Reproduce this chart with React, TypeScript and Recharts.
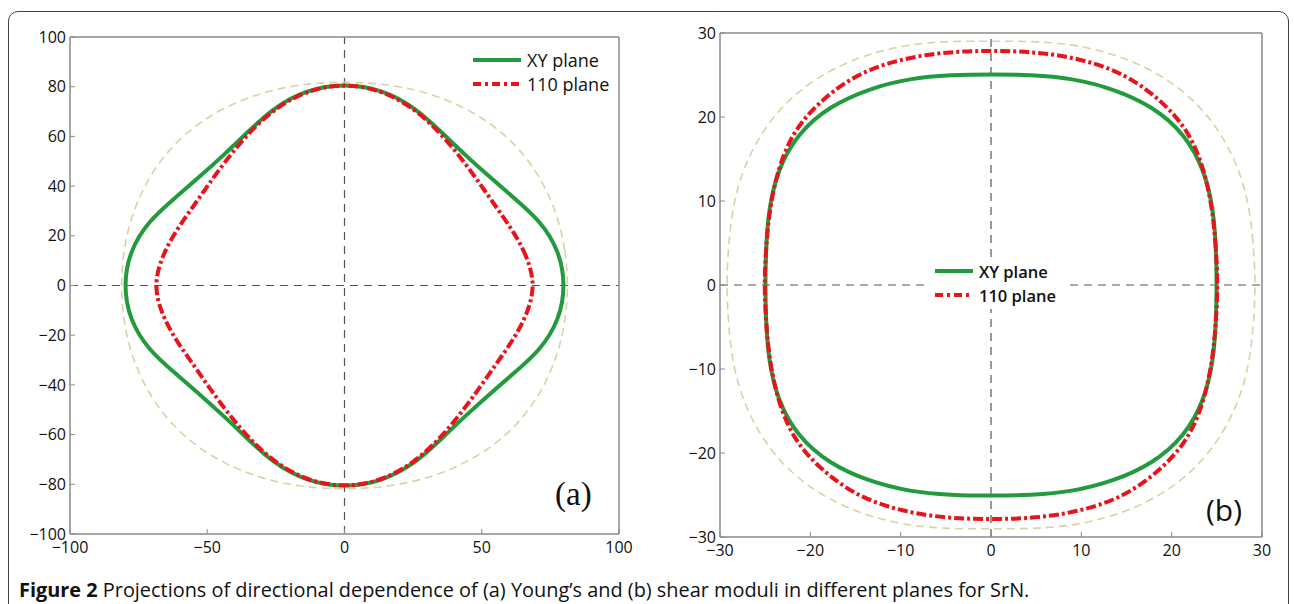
import React from 'react';
import { LineChart, Line, XAxis, YAxis, ReferenceLine } from 'recharts';

// angles (deg) of the first quadrant, the rest of each curve is mirrored
const angles = [0, 10, 20, 30, 40, 50, 60, 70, 80, 90];

// (a) Young's modulus projections, radius at each angle
const youngXY = [80.5, 79.5, 76, 71, 68.5, 68.5, 71, 76, 80, 81.3];
const young110 = [69.5, 67.6, 65.2, 63.6, 64.2, 66.5, 70.5, 75.5, 79.8, 81.3];
const youngRef = [81.5, 81.8, 82.6, 83.5, 84.3, 84.5, 84, 83.3, 82.5, 82];

// (b) shear modulus projections
const shearXY = [25, 25.3, 26.2, 27.3, 28, 27.8, 27, 26.2, 25.4, 25.1];
const shear110 = [25.1, 25.3, 26.1, 27.3, 28.6, 29, 29.2, 28.7, 28.2, 27.9];
const shearRef = [29.3, 29.5, 30.3, 31, 31.5, 31.5, 31, 30.3, 29.5, 29];

const youngTicksX = [-100, -50, 0, 50, 100];
const youngTicksY = [-100, -80, -60, -40, -20, 0, 20, 40, 60, 80, 100];
const shearTicks = [-30, -20, -10, 0, 10, 20, 30];

const GREEN = '#229a3e';
const RED = '#e8141c';
const GOLD = '#d9d2a4';
const AXIS = '#8a8a8a';
const FONT = '"Open Sans", "Noto Sans", sans-serif';

const toLoop = (r: number[]) => {
  const seq: [number, number][] = [];
  for (let i = 0; i < 9; i++) seq.push([angles[i], r[i]]);
  for (let i = 9; i > 0; i--) seq.push([180 - angles[i], r[i]]);
  for (let i = 0; i < 9; i++) seq.push([180 + angles[i], r[i]]);
  for (let i = 9; i > 0; i--) seq.push([360 - angles[i], r[i]]);
  return seq.map(([deg, rad]) => {
    const t = (deg * Math.PI) / 180;
    return { x: rad * Math.cos(t), y: rad * Math.sin(t) };
  });
};

const fmt = (v: number) => String(v).replace('-', '\u2212');
const tickStyle = { fontFamily: FONT, fontSize: 16, fill: '#111' };

type PanelProps = {
  left: number;
  width: number;
  margin: { top: number; right: number; bottom: number; left: number };
  yWidth: number;
  lim: number;
  ticksX: number[];
  ticksY: number[];
  xy: number[];
  p110: number[];
  ref0: number[];
};

const Panel = ({ left, width, margin, yWidth, lim, ticksX, ticksY, xy, p110, ref0 }: PanelProps) => (
  <div style={{ position: 'absolute', left, top: 0 }}>
    <LineChart width={width} height={604} margin={margin}>
      <XAxis
        type="number"
        dataKey="x"
        domain={[-lim, lim]}
        ticks={ticksX}
        interval={0}
        allowDataOverflow
        height={30}
        tickSize={-5}
        tickMargin={13}
        tickFormatter={fmt}
        tick={tickStyle}
        axisLine={{ stroke: AXIS, strokeWidth: 1.5 }}
        tickLine={{ stroke: AXIS }}
      />
      <XAxis
        xAxisId="top"
        orientation="top"
        type="number"
        domain={[-lim, lim]}
        ticks={ticksX}
        interval={0}
        height={1}
        tickSize={-5}
        tick={false}
        axisLine={{ stroke: AXIS, strokeWidth: 1.5 }}
        tickLine={{ stroke: AXIS }}
      />
      <YAxis
        type="number"
        dataKey="y"
        domain={[-lim, lim]}
        ticks={ticksY}
        interval={0}
        allowDataOverflow
        width={yWidth}
        tickSize={-5}
        tickMargin={9}
        tickFormatter={fmt}
        tick={tickStyle}
        axisLine={{ stroke: AXIS, strokeWidth: 1.5 }}
        tickLine={{ stroke: AXIS }}
      />
      <YAxis
        yAxisId="right"
        orientation="right"
        type="number"
        domain={[-lim, lim]}
        ticks={ticksY}
        interval={0}
        width={1}
        tickSize={-5}
        tick={false}
        axisLine={{ stroke: AXIS, strokeWidth: 1.5 }}
        tickLine={{ stroke: AXIS }}
      />
      <ReferenceLine x={0} stroke="#555" strokeWidth={1.2} strokeDasharray="8 6" />
      <ReferenceLine y={0} stroke="#555" strokeWidth={1.2} strokeDasharray="8 6" />
      <Line
        data={toLoop(ref0)}
        dataKey="y"
        type="basisClosed"
        stroke={GOLD}
        strokeWidth={1.6}
        strokeDasharray="8 5"
        dot={false}
        activeDot={false}
        isAnimationActive={false}
      />
      <Line
        data={toLoop(xy)}
        dataKey="y"
        type="basisClosed"
        stroke={GREEN}
        strokeWidth={4}
        dot={false}
        activeDot={false}
        isAnimationActive={false}
      />
      <Line
        data={toLoop(p110)}
        dataKey="y"
        type="basisClosed"
        stroke={RED}
        strokeWidth={4}
        strokeDasharray="10 3 3 3"
        dot={false}
        activeDot={false}
        isAnimationActive={false}
      />
    </LineChart>
  </div>
);

const LegendRow = ({ color, dash, label, size, weight, lineW }: { color: string; dash?: string; label: string; size: number; weight: number; lineW: number }) => (
  <div style={{ display: 'flex', alignItems: 'center', height: 24 }}>
    <svg width={lineW} height={8} style={{ marginRight: 6 }}>
      <line x1={0} y1={4} x2={lineW} y2={4} stroke={color} strokeWidth={4} strokeDasharray={dash} />
    </svg>
    <span style={{ fontFamily: FONT, fontSize: size, fontWeight: weight, color: '#111' }}>{label}</span>
  </div>
);

export default function App() {
  return (
    <div style={{ position: 'absolute', left: 0, top: 0, width: 1294, height: 604, overflow: 'hidden', background: '#fff' }}>
      <div style={{ position: 'absolute', left: 8, top: 11, width: 1279, height: 700, border: '1.5px solid #444', borderRadius: 10 }} />
      <Panel
        left={0}
        width={660}
        margin={{ top: 36, right: 40, bottom: 40, left: 20 }}
        yWidth={50}
        lim={100}
        ticksX={youngTicksX}
        ticksY={youngTicksY}
        xy={youngXY}
        p110={young110}
        ref0={youngRef}
      />
      <Panel
        left={660}
        width={634}
        margin={{ top: 32, right: 31, bottom: 37, left: 10 }}
        yWidth={50}
        lim={30}
        ticksX={shearTicks}
        ticksY={shearTicks}
        xy={shearXY}
        p110={shear110}
        ref0={shearRef}
      />
      <div style={{ position: 'absolute', left: 469, top: 48, background: '#fff', padding: '0 4px' }}>
        <LegendRow color={GREEN} label="XY plane" size={18} weight={400} lineW={48} />
        <LegendRow color={RED} dash="8 4 3 4" label="110 plane" size={18} weight={400} lineW={48} />
      </div>
      <div style={{ position: 'absolute', left: 925, top: 259, background: '#fff', padding: '0 8px 2px 10px' }}>
        <LegendRow color={GREEN} label="XY plane" size={16.5} weight={600} lineW={38} />
        <LegendRow color={RED} dash="8 4 3 4" label="110 plane" size={16.5} weight={600} lineW={38} />
      </div>
      <div style={{ position: 'absolute', left: 555, top: 476, fontFamily: '"Liberation Serif", serif', fontSize: 33, color: '#111' }}>(a)</div>
      <div style={{ position: 'absolute', left: 1206, top: 489, fontFamily: FONT, fontSize: 30, color: '#111' }}>(b)</div>
      <div style={{ position: 'absolute', left: 19, top: 576, fontFamily: FONT, fontSize: 19.9, color: '#111', whiteSpace: 'nowrap' }}>
        <b>Figure 2</b> Projections of directional dependence of (a) Young’s and (b) shear moduli in different planes for SrN.
      </div>
    </div>
  );
}
